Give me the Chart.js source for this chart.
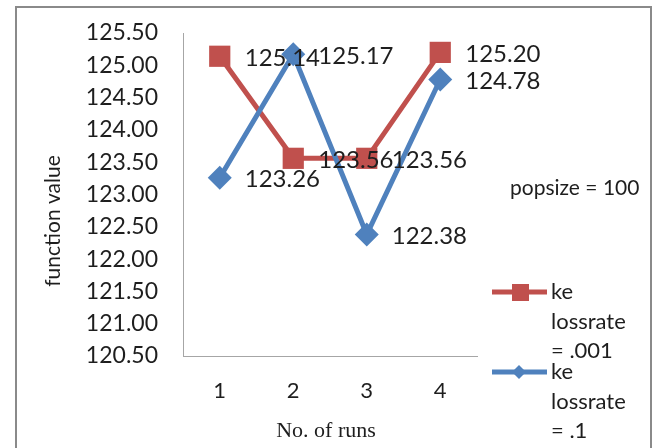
<!DOCTYPE html>
<html>
<head>
    <title>function value vs runs</title>
    <script src="https://cdn.jsdelivr.net/npm/chart.js@4.4.0/dist/chart.umd.min.js"></script>
    <style>
        body { margin: 0; background: #fff; }
        canvas { display: block; }
    </style>
</head>
<body>
    <canvas id="runsChart" width="660" height="448"></canvas>
    <script>
        // data
        const runs = ['1', '2', '3', '4'];
        const lossRate001 = [125.14, 123.56, 123.56, 125.20];
        const lossRate01 = [123.26, 125.17, 122.38, 124.78];
        const seriesNames = [['ke', 'lossrate', '= .001'], ['ke', 'lossrate', '= .1']];
        const yMin = 120.5, yMax = 125.5, yStep = 0.5;

        const RED = '#C0504D';
        const BLUE = '#4F81BD';
        const FONT = 'Lato, "Noto Sans", sans-serif';
        const TEXT = '#1e1e1e';

        // frame, axis titles, popsize note, legend
        const decorPlugin = {
            id: 'decor',
            beforeDraw(chart) {
                const ctx = chart.ctx;
                ctx.save();
                ctx.fillStyle = '#fff';
                ctx.fillRect(0, 0, chart.width, chart.height);
                ctx.strokeStyle = '#8a8a8a';
                ctx.lineWidth = 2;
                ctx.strokeRect(16, 7, 635, 470);
                ctx.restore();
            },
            afterDraw(chart) {
                const ctx = chart.ctx;
                ctx.save();
                ctx.fillStyle = TEXT;
                ctx.textBaseline = 'middle';

                ctx.font = '22px "Liberation Serif", "Times New Roman", serif';
                ctx.textAlign = 'center';
                ctx.fillText('No. of runs', 326, 431);

                ctx.font = '21px ' + FONT;
                ctx.textAlign = 'left';
                ctx.fillText('popsize = 100', 510, 188);

                ctx.save();
                ctx.beginPath();
                ctx.rect(44, 0, 100, chart.height);
                ctx.clip();
                ctx.translate(53, 221);
                ctx.rotate(-Math.PI / 2);
                ctx.textAlign = 'center';
                ctx.font = '21px ' + FONT;
                ctx.fillText('function value', 0, 0);
                ctx.restore();

                const colors = [RED, BLUE];
                colors.forEach((c, i) => {
                    const y0 = 292 + i * 80;
                    ctx.strokeStyle = c;
                    ctx.lineWidth = 5;
                    ctx.beginPath();
                    ctx.moveTo(492, y0);
                    ctx.lineTo(547, y0);
                    ctx.stroke();
                    ctx.fillStyle = c;
                    if (i === 0) {
                        ctx.fillRect(512, y0 - 8, 17, 17);
                    } else {
                        ctx.beginPath();
                        ctx.moveTo(519, y0 - 7);
                        ctx.lineTo(526, y0);
                        ctx.lineTo(519, y0 + 7);
                        ctx.lineTo(512, y0);
                        ctx.closePath();
                        ctx.fill();
                    }
                    ctx.fillStyle = TEXT;
                    ctx.font = '22px ' + FONT;
                    ctx.textAlign = 'left';
                    seriesNames[i].forEach((t, k) => ctx.fillText(t, 551, y0 + k * 29.5));
                });
                ctx.restore();
            }
        };

        // value labels right of each point, on top of all lines
        const valueLabels = {
            id: 'valueLabels',
            afterDatasetsDraw(chart) {
                const ctx = chart.ctx;
                ctx.save();
                ctx.fillStyle = TEXT;
                ctx.font = '24px ' + FONT;
                ctx.textAlign = 'left';
                ctx.textBaseline = 'middle';
                chart.data.datasets.forEach((ds, i) => {
                    chart.getDatasetMeta(i).data.forEach((pt, j) => {
                        ctx.fillText(ds.data[j].toFixed(2), pt.x + 25, pt.y + 2);
                    });
                });
                ctx.restore();
            }
        };

        new Chart(document.getElementById('runsChart'), {
            type: 'line',
            data: {
                labels: runs,
                datasets: [{
                    label: 'ke lossrate = .001',
                    data: lossRate001,
                    borderColor: RED,
                    backgroundColor: RED,
                    borderWidth: 5,
                    pointStyle: 'rect',
                    pointRadius: 15,
                    pointBorderWidth: 0,
                    tension: 0,
                    order: 1
                }, {
                    label: 'ke lossrate = .1',
                    data: lossRate01,
                    borderColor: BLUE,
                    backgroundColor: BLUE,
                    borderWidth: 5,
                    pointStyle: 'rectRot',
                    pointRadius: 12,
                    pointBorderWidth: 0,
                    tension: 0,
                    order: 0
                }]
            },
            options: {
                responsive: false,
                animation: false,
                layout: { padding: { left: 0, top: 33, right: 183, bottom: 0 } },
                plugins: {
                    legend: { display: false },
                    tooltip: { enabled: false }
                },
                scales: {
                    x: {
                        offset: true,
                        grid: { display: false, drawTicks: false, offset: true },
                        border: { color: '#a6a6a6', width: 1 },
                        ticks: { color: TEXT, font: { family: FONT, size: 22 }, padding: 22 },
                        afterFit(scale) {
                            scale.height = 92;
                            scale.paddingLeft = 0;
                            scale.paddingRight = 0;
                        }
                    },
                    y: {
                        min: yMin,
                        max: yMax,
                        grid: { display: false, drawTicks: false },
                        border: { color: '#a6a6a6', width: 1 },
                        ticks: {
                            stepSize: yStep,
                            color: TEXT,
                            font: { family: FONT, size: 23 },
                            padding: 25,
                            callback: v => v.toFixed(2)
                        },
                        afterFit(scale) {
                            scale.width = 183;
                            scale.paddingTop = 0;
                            scale.paddingBottom = 0;
                        }
                    }
                }
            },
            plugins: [decorPlugin, valueLabels]
        });
    </script>
</body>
</html>
